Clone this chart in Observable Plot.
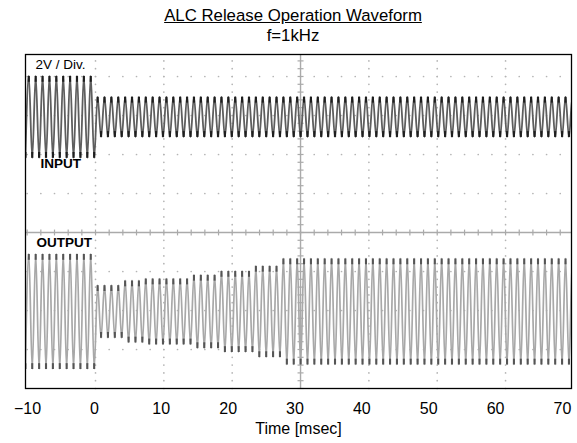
<!DOCTYPE html>
<html><head><meta charset="utf-8">
<script src="https://cdn.jsdelivr.net/npm/d3@7"></script>
<script src="https://cdn.jsdelivr.net/npm/@observablehq/plot@0.6"></script>
<style>
body{margin:0;background:#fff;}
#wrap{position:relative;width:577px;height:443px;font-family:"Liberation Sans",Arial,sans-serif;}
#title{position:absolute;left:0;width:586px;top:6px;text-align:center;font-size:16.8px;line-height:20px;color:#000;}
#title .t{text-decoration:underline;}
#plot{position:absolute;left:0;top:0;}
</style></head><body>
<div id="wrap"><div id="plot"></div><div id="title"><span class="t">ALC Release Operation Waveform</span><br>f=1kHz</div></div>
<script>
// ---- data ----
const xTicks = [-10, 0, 10, 20, 30, 40, 50, 60, 70];          // msec
const firstPeakTime = -9.806;                                   // msec, first positive peak
const period = 1.029;                                           // msec per cycle (as drawn)
const inputOffset = 5.93;                                       // V, trace centre
const outputOffset = -4.05;                                     // V, trace centre
const inputCycles = [10, 70];                                   // run lengths (cycles)
const inputAmp = [2.10, 1.03];                                  // peak V
const outputCycles = [10, 4, 3, 7, 4, 5, 4, 43];
const outputAmp = [2.95, 1.35, 1.59, 1.69, 1.88, 2.08, 2.34, 2.72];
const gridTimes = [0.17, 10.39, 20.61, 30.83, 41.05, 51.27, 61.49]; // graticule columns
const centerTime = 30.83;
const gridVolts = [-6, -4, -2, 0, 2, 4, 6, 8];                  // graticule rows (2V/div)
const labelText = ["2V / Div.", "INPUT", "OUTPUT"];
const labelT = [-8.8, -8.06, -8.65];
const labelV = [8.62, 3.52, -0.53];
const labelBold = [false, true, true];

// ---- build traces (extrema, smoothed by the curve) ----
function trace(cycles, amps, offset) {
  const pts = [];
  let k = 0;
  cycles.forEach((n, i) => {
    for (let c = 0; c < n; c++, k++) {
      const t = firstPeakTime + k * period;
      if (k === 0) pts.push({t: t - period / 2, v: offset - amps[i], s: -1});
      pts.push({t, v: offset + amps[i], s: 1});
      pts.push({t: t + period / 2, v: offset - amps[i], s: -1});
    }
  });
  return pts;
}
const inPts = trace(inputCycles, inputAmp, inputOffset);
const outPts = trace(outputCycles, outputAmp, outputOffset);

// ---- graticule ----
const xDom = [-10.3, 71.35], yDom = [-8, 9.128];
const xStep = (gridTimes[1] - gridTimes[0]) / 5, yStep = 0.4;
const xMinor = [];
for (let t = gridTimes[0] - 5 * xStep; t <= xDom[1]; t += xStep) if (t >= xDom[0]) xMinor.push(t);
const yMinor = [];
for (let v = yDom[0]; v <= yDom[1]; v += yStep) yMinor.push(v);
const gridDots = [];
gridVolts.filter(v => v !== 0).forEach(v => xMinor.forEach(t => gridDots.push({t, v})));
gridTimes.filter(t => t !== centerTime).forEach(t => yMinor.forEach(v => gridDots.push({t, v})));
const labels = labelText.map((text, i) => ({text, t: labelT[i], v: labelV[i], bold: labelBold[i]}));

const chart = Plot.plot({
  width: 577, height: 443,
  marginLeft: 25, marginRight: 6, marginTop: 54, marginBottom: 55,
  x: {domain: xDom, axis: null},
  y: {domain: yDom, axis: null},
  style: {fontFamily: "'Liberation Sans', Arial, sans-serif", background: "white", color: "black"},
  marks: [
    Plot.dot(gridDots, {x: "t", y: "v", r: 0.85, fill: "#b4b4b4", stroke: "none"}),
    Plot.ruleY([0], {stroke: "#aaa", strokeWidth: 1.4}),
    Plot.ruleX([centerTime], {stroke: "#aaa", strokeWidth: 1.4}),
    Plot.link(xMinor, {x1: d => d, x2: d => d, y1: -0.15, y2: 0.15, stroke: "#aaa", strokeWidth: 1.2}),
    Plot.link(yMinor, {x1: centerTime - 0.45, x2: centerTime + 0.45, y1: d => d, y2: d => d, stroke: "#aaa", strokeWidth: 1.2}),
    Plot.line(outPts, {x: "t", y: "v", curve: "monotone-x", stroke: "#a8a8a8", strokeWidth: 1.7, clip: true}),
    Plot.link(outPts, {x1: "t", x2: "t", y1: "v", y2: d => d.v - d.s * 0.3, stroke: "#555", strokeWidth: 2.1, clip: true}),
    Plot.line(inPts, {x: "t", y: "v", curve: "monotone-x", stroke: "#5e5e5e", strokeWidth: 1.8, clip: true}),
    Plot.link(inPts, {x1: "t", x2: "t", y1: "v", y2: d => d.v - d.s * 0.3, stroke: "#1e1e1e", strokeWidth: 2.2, clip: true}),
    Plot.text(labels.filter(d => !d.bold), {x: "t", y: "v", text: "text", textAnchor: "start", fontSize: 13.5, fill: "black"}),
    Plot.text(labels.filter(d => d.bold), {x: "t", y: "v", text: "text", textAnchor: "start", fontSize: 13.5, fontWeight: "bold", fill: "black"}),
    Plot.frame({stroke: "black", strokeWidth: 1.3}),
    Plot.text(xTicks, {x: d => d, text: d => d < 0 ? "\u2212" + (-d) : String(d), frameAnchor: "bottom", dy: 20, fontSize: 16, lineAnchor: "middle", fill: "black"}),
    Plot.text(["Time [msec]"], {frameAnchor: "bottom", dy: 40, fontSize: 16, lineAnchor: "middle", fill: "black"})
  ]
});
document.getElementById("plot").appendChild(chart);
</script>
</body></html>
